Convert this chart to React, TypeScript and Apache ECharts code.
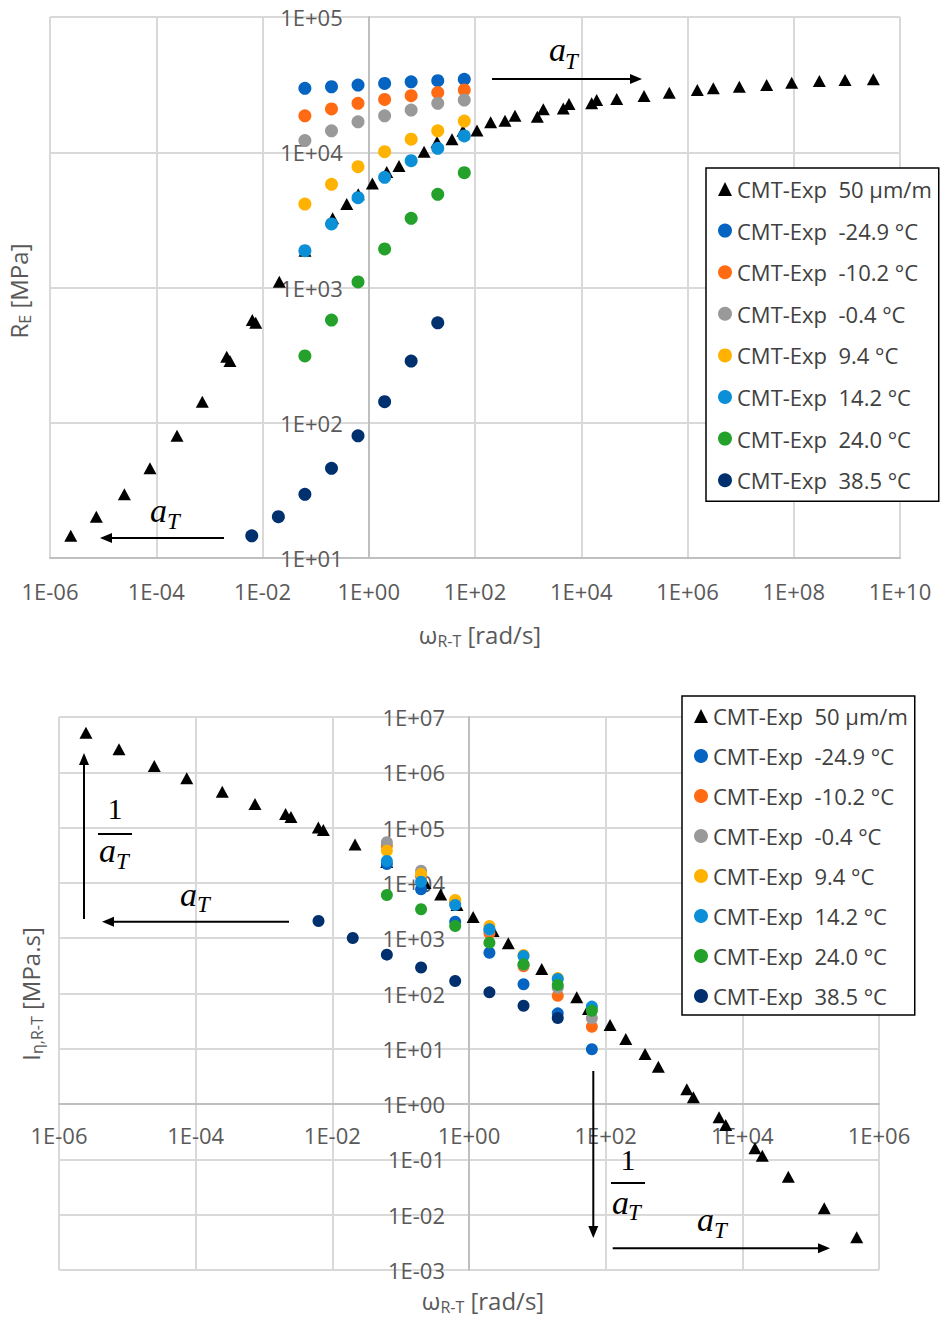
import React, { useEffect, useRef } from 'react';
import * as echarts from 'echarts';

const NAMES = [
  'CMT-Exp  50 µm/m',
  'CMT-Exp  -24.9 °C',
  'CMT-Exp  -10.2 °C',
  'CMT-Exp  -0.4 °C',
  'CMT-Exp  9.4 °C',
  'CMT-Exp  14.2 °C',
  'CMT-Exp  24.0 °C',
  'CMT-Exp  38.5 °C',
];
const COLORS = ['#000000', '#0563C1', '#FF6A13', '#999999', '#FFB300', '#0B8FD6', '#23A12A', '#00306E'];

// angular frequencies of the isothermal measurements [rad/s]
const FREQ_T = [0.0628, 0.199, 0.628, 1.99, 6.28, 19.9, 62.8];
const FREQ_385 = [0.00628, 0.0199, 0.0628, 0.199, 0.628, 1.99, 6.28, 19.9];

// ---- top chart: R_E [MPa]
const TOP_MASTER_W = [2.46e-6, 7.45e-6, 2.51e-5, 7.62e-5, 2.46e-4, 7.36e-4, 2.12e-3, 2.44e-3, 6.43e-3, 7.45e-3, 0.0207, 0.0631, 0.209, 0.385, 0.635, 1.17, 2.18, 3.71, 11.0, 19.3, 36.9, 59.4, 109, 197, 367, 566, 1490, 1930, 4590, 5880, 15700, 19500, 46500, 1.52e5, 4.54e5, 1.53e6, 3.06e6, 9.45e6, 3.09e7, 9.14e7, 3.03e8, 9.23e8, 3.15e9];
const TOP_MASTER_RE = [14.6, 20.2, 29.6, 46.0, 80.2, 143, 308, 286, 575, 549, 1104, 1870, 3250, 4140, 4890, 5870, 7140, 7910, 10100, 11900, 12500, 14400, 14500, 16700, 17100, 18600, 18300, 20800, 21100, 22700, 23000, 24300, 24800, 26100, 27500, 28800, 29700, 30500, 31400, 32700, 33600, 34200, 34600];
const RE_M249 = [29700, 30500, 31400, 32300, 33200, 33800, 34600];
const RE_M102 = [18600, 20900, 23000, 24600, 26200, 27600, 28900];
const RE_M04 = [12200, 14400, 16800, 18600, 20500, 23000, 24300];
const RE_94 = [4140, 5790, 7820, 10100, 12500, 14400, 17000];
const RE_142 = [1870, 2950, 4610, 6530, 8660, 10700, 13200];
const RE_240 = [312, 575, 1100, 1930, 3250, 4890, 7060];
const RE_385 = [14.6, 20.2, 29.6, 46, 80, 143, 286, 548];

// ---- bottom chart: I_eta [MPa.s]
const BOT_MASTER_W = [2.48e-6, 7.55e-6, 2.48e-5, 7.40e-5, 2.45e-4, 7.38e-4, 2.07e-3, 2.48e-3, 6.24e-3, 7.38e-3, 0.0215, 0.0625, 0.227, 0.385, 0.668, 1.15, 2.25, 3.76, 11.6, 37.7, 56.1, 116, 197, 377, 590, 1540, 1920, 4560, 5710, 15300, 19600, 47100, 1.58e5, 4.72e5];
const BOT_MASTER_I = [5.20e6, 2.61e6, 1.30e6, 7.80e5, 4.46e5, 2.67e5, 1.76e5, 1.56e5, 1.00e5, 9.06e4, 4.94e4, 23900, 9950, 6170, 3980, 2420, 1350, 809, 277, 85.3, 52.5, 26.9, 15.0, 8.05, 4.74, 1.85, 1.33, 0.577, 0.419, 0.159, 0.117, 0.0486, 0.0131, 0.0039];
const I_M249 = [22000, 7660, 1990, 547, 147, 43.8, 9.8];
const I_M102 = [47000, 13000, 4300, 1230, 310, 91, 25.1];
const I_M04 = [54200, 16600, 4700, 1400, 330, 127, 35.6];
const I_94 = [38200, 14500, 4910, 1660, 497, 190, 54];
const I_142 = [24900, 10500, 3990, 1450, 476, 183, 58];
const I_240 = [6040, 3330, 1660, 830, 337, 143, 48.9];
const I_385 = [2050, 1010, 504, 295, 168, 105, 60, 36];

const TOP_SETS: [number[], number[]][] = [
  [TOP_MASTER_W, TOP_MASTER_RE],
  [FREQ_T, RE_M249],
  [FREQ_T, RE_M102],
  [FREQ_T, RE_M04],
  [FREQ_T, RE_94],
  [FREQ_T, RE_142],
  [FREQ_T, RE_240],
  [FREQ_385, RE_385],
];
const BOT_SETS: [number[], number[]][] = [
  [BOT_MASTER_W, BOT_MASTER_I],
  [FREQ_T, I_M249],
  [FREQ_T, I_M102],
  [FREQ_T, I_M04],
  [FREQ_T, I_94],
  [FREQ_T, I_142],
  [FREQ_T, I_240],
  [FREQ_385, I_385],
];

const fmt = (v: number) => {
  const e = Math.round(v);
  return '1E' + (e < 0 ? '-' : '+') + String(Math.abs(e)).padStart(2, '0');
};

const toPts = (xs: number[], ys: number[]) => xs.map((x, i) => [Math.log10(x), Math.log10(ys[i])]);

const TICK = { fontFamily: 'Open Sans', fontSize: 22, color: '#595959' };
const GRIDLINE = { show: true, lineStyle: { color: '#d9d9d9', width: 2 } };
const AXLINE = { color: '#bfbfbf', width: 2 };

function arrow(x1: number, y1: number, x2: number, y2: number) {
  const dx = x2 - x1, dy = y2 - y1;
  const L = Math.hypot(dx, dy);
  const ux = dx / L, uy = dy / L;
  const hl = 12, hw = 5;
  const bx = x2 - ux * hl, by = y2 - uy * hl;
  return [
    { type: 'line', z: 100, shape: { x1, y1, x2: bx + ux, y2: by + uy }, style: { stroke: '#000', lineWidth: 2 } },
    { type: 'polygon', z: 100, shape: { points: [[x2, y2], [bx - uy * hw, by + ux * hw], [bx + uy * hw, by - ux * hw]] }, style: { fill: '#000' } },
  ];
}

function mathText(text: string, x: number, y: number, size: number, italic: boolean, align = 'left') {
  return {
    type: 'text', z: 100, x, y,
    style: {
      text, fill: '#000', fontFamily: 'Liberation Serif', fontStyle: italic ? 'italic' : 'normal', fontSize: size,
      align, verticalAlign: 'middle', textAlign: align, textVerticalAlign: 'middle',
    },
  };
}

function aT(ax: number, ay: number, tx: number, ty: number) {
  return [mathText('a', ax, ay - 3.7, 34, true), mathText('T', tx, ty, 23, true)];
}

function frac(cx: number, oneY: number, barX1: number, barX2: number, barY: number, ax: number, ay: number, tx: number, ty: number) {
  return [
    mathText('1', cx, oneY, 30, false, 'center'),
    { type: 'line', z: 100, shape: { x1: barX1, y1: barY, x2: barX2, y2: barY }, style: { stroke: '#000', lineWidth: 2 } },
    ...aT(ax, ay, tx, ty),
  ];
}

function title(parts: string, x: number, y: number, rotate: boolean) {
  const base = { fontFamily: 'Open Sans', fill: '#595959', color: '#595959' };
  return {
    type: 'text', z: 100, x, y, rotation: rotate ? Math.PI / 2 : 0,
    style: {
      text: parts,
      align: 'center', verticalAlign: 'middle', textAlign: 'center', textVerticalAlign: 'middle',
      rich: {
        m: { ...base, fontSize: 24, lineHeight: 30 },
        s: { ...base, fontSize: 16, lineHeight: 16, verticalAlign: 'bottom' },
      },
    },
  };
}

function buildSeries(sets: [number[], number[]][], idx: number, circle: number, tri: number[]) {
  return sets.map(([xs, ys], i) => ({
    type: 'scatter',
    name: NAMES[i],
    xAxisIndex: idx,
    yAxisIndex: idx,
    symbol: i === 0 ? 'triangle' : 'circle',
    symbolSize: i === 0 ? tri : circle,
    itemStyle: { color: COLORS[i], opacity: 1 },
    emphasis: { disabled: true },
    data: toPts(xs, ys),
    z: 2 + i,
  }));
}

const legendBase = {
  orient: 'vertical',
  itemWidth: 14,
  itemHeight: 14,
  selectedMode: false,
  borderColor: '#000',
  borderWidth: 1.5,
  backgroundColor: '#fff',
  textStyle: { fontFamily: 'Open Sans', fontSize: 22, color: '#404040' },
  data: NAMES,
  z: 50,
};

// grid geometry (pixels)
const G1 = { left: 50, top: 17, width: 850, height: 541 };
const G2 = { left: 59, top: 717, width: 820, height: 553 };

const option: any = {
  animation: false,
  backgroundColor: '#fff',
  grid: [
    { ...G1, containLabel: false, outerBoundsMode: 'none', show: false },
    { ...G2, containLabel: false, outerBoundsMode: 'none', show: false },
  ],
  xAxis: [
    {
      type: 'value', gridIndex: 0, min: -6, max: 10, interval: 2,
      axisLine: { show: true, onZero: false, lineStyle: AXLINE },
      axisTick: { show: false },
      axisLabel: { ...TICK, formatter: fmt, margin: 22, showMinLabel: true, showMaxLabel: true },
      splitLine: GRIDLINE,
    },
    {
      type: 'value', gridIndex: 1, min: -6, max: 6, interval: 2,
      // axis crosses the y axis at 1E+00 (4 of 10 decades above the bottom)
      offset: -(G2.height * 3) / 10,
      axisLine: { show: true, onZero: false, lineStyle: AXLINE },
      axisTick: { show: false },
      axisLabel: { ...TICK, formatter: fmt, margin: 20, showMinLabel: true, showMaxLabel: true },
      splitLine: GRIDLINE,
    },
  ],
  yAxis: [
    {
      type: 'value', gridIndex: 0, min: 1, max: 5, interval: 1,
      // axis crosses the x axis at 1E+00 (6 of 16 decades from the left)
      offset: -(G1.width * 6) / 16,
      axisLine: { show: true, onZero: false, lineStyle: AXLINE },
      axisTick: { show: false },
      axisLabel: { ...TICK, formatter: fmt, margin: 26, showMinLabel: true, showMaxLabel: true },
      splitLine: GRIDLINE,
    },
    {
      type: 'value', gridIndex: 1, min: -3, max: 7, interval: 1,
      offset: -(G2.width * 6) / 12,
      axisLine: { show: true, onZero: false, lineStyle: AXLINE },
      axisTick: { show: false },
      axisLabel: { ...TICK, formatter: fmt, margin: 24, showMinLabel: true, showMaxLabel: true },
      splitLine: GRIDLINE,
    },
  ],
  legend: [
    { ...legendBase, left: 706, top: 168, padding: [10, 7, 10, 12], itemGap: 19.6 },
    { ...legendBase, left: 682, top: 696, padding: [9, 7, 8, 12], itemGap: 18 },
  ],
  series: [
    ...buildSeries(TOP_SETS, 0, 13, [13, 12]),
    ...buildSeries(BOT_SETS, 1, 12, [13, 12]),
  ],
  graphic: [
    title('{m|ω}{s|R-T}{m| [rad/s]}', 480, 634, false),
    title('{m|R}{s|E}{m| [MPa]}', 18, 291, true),
    title('{m|ω}{s|R-T}{m| [rad/s]}', 483, 1300, false),
    title('{m|I}{s|η,R-T}{m| [MPa.s]}', 30, 994, true),
    // top chart annotations
    ...arrow(492, 79, 642, 79),
    ...aT(549, 53.5, 565, 61),
    ...arrow(224, 538, 100, 538),
    ...aT(150, 514, 167, 521),
    // bottom chart annotations
    ...arrow(84, 919, 84, 753),
    ...frac(115, 808, 98, 132, 834, 99, 854, 116, 861),
    ...arrow(289, 921.7, 102, 921.7),
    ...aT(180, 898, 197, 904.5),
    ...arrow(593.3, 1071, 593.3, 1238),
    ...frac(628, 1159, 611, 645, 1183, 612, 1206, 628, 1212),
    ...arrow(612.7, 1248.3, 830, 1248.3),
    ...aT(697, 1223.5, 714, 1230),
  ],
};

export default function App() {
  const ref = useRef<HTMLDivElement>(null);
  useEffect(() => {
    document.body.style.margin = '0';
    const chart = echarts.init(ref.current as HTMLDivElement, null, { renderer: 'svg' });
    chart.setOption(option);
    return () => chart.dispose();
  }, []);
  return <div ref={ref} style={{ width: 946, height: 1318 }} />;
}
